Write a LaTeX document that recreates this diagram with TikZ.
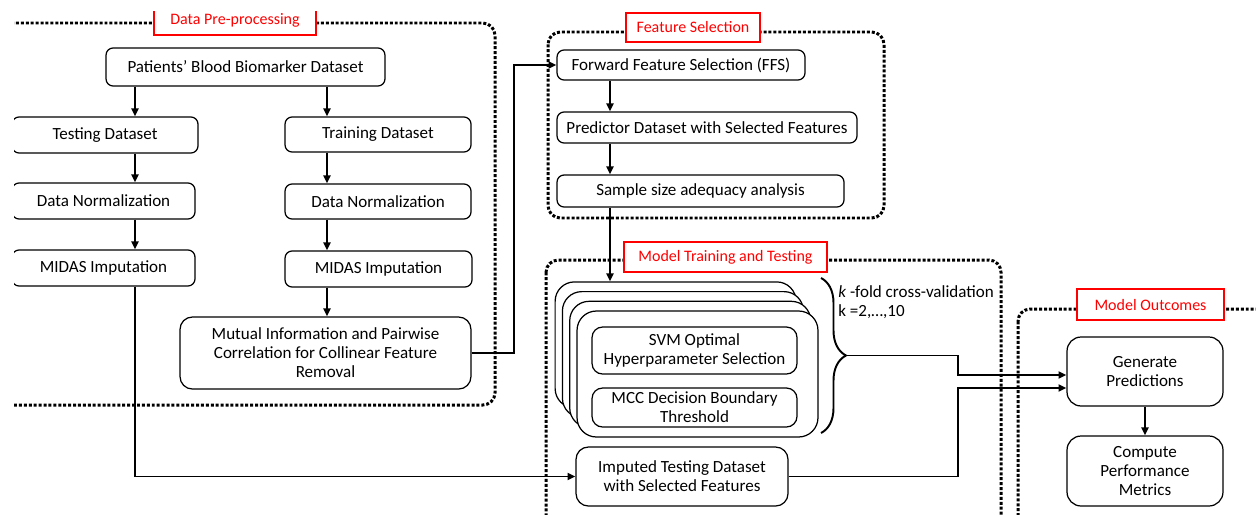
\documentclass[tikz,border=0pt]{standalone}
\usepackage{fontspec}
\setmainfont{Carlito}
\usetikzlibrary{arrows.meta,calc,decorations.pathreplacing}
\definecolor{cPhase}{HTML}{FF0000}

\begin{document}
\begin{tikzpicture}[x=0.02cm,y=-0.02cm,
    stage/.style={draw,rounded corners=4pt,line width=0.7pt,align=center,inner sep=1pt,
      font=\fontsize{9.7}{10.8}\selectfont},
    phasetag/.style={draw=cPhase,fill=white,line width=1.1pt,text=cPhase,inner sep=0pt,
      font=\fontsize{9.1}{10}\selectfont},
    phasebox/.style={line width=1.7pt,dash pattern=on 1.7pt off 1.1pt,rounded corners=7pt},
    arrowline/.style={line width=1.1pt,-{Triangle[length=4.5pt,width=4pt]}},
    foldbox/.style={draw,fill=white,rounded corners=11pt,line width=0.7pt,
      minimum width=4.82cm,minimum height=2.52cm}]
  \useasboundingbox (0,0) rectangle (1256,514);
  \clip (14,11) rectangle (1256,514);

  \draw[phasebox] (-30,23) rectangle (495,405);
  \draw[phasebox] (548,32) rectangle (884,218);
  \draw[phasebox] (546,260) rectangle (1001,560);
  \draw[phasebox] (1018,309) rectangle (1300,560);

  \node[phasetag,minimum width=3.24cm,minimum height=0.6cm] (tagPre) at (235,20) {Data Pre-processing};
  \node[phasetag,minimum width=2.68cm,minimum height=0.58cm] (tagSel) at (693,27.5) {Feature Selection};
  \node[phasetag,minimum width=4.06cm,minimum height=0.6cm] (tagTrain) at (725.5,257) {Model Training and Testing};
  \node[phasetag,minimum width=2.94cm,minimum height=0.62cm] (tagOut) at (1150.5,304.5) {Model Outcomes};

  \node[stage,minimum width=5.58cm,minimum height=0.76cm] (patients) at (245.5,67) {Patients' Blood Biomarker Dataset};
  \node[stage,minimum width=3.72cm,minimum height=0.72cm] (testL) at (105,135) {Testing Dataset};
  \node[stage,minimum width=3.66cm,minimum height=0.72cm] (normL) at (103.5,201) {Data Normalization};
  \node[stage,minimum width=3.66cm,minimum height=0.72cm] (midasL) at (103.5,268) {MIDAS Imputation};
  \node[stage,minimum width=3.72cm,minimum height=0.7cm] (trainR) at (378,134.5) {Training Dataset};
  \node[stage,minimum width=3.72cm,minimum height=0.7cm] (normR) at (378,201.5) {Data Normalization};
  \node[stage,minimum width=3.74cm,minimum height=0.72cm] (midasR) at (378.5,269) {MIDAS Imputation};
  \node[stage,minimum width=5.82cm,minimum height=1.44cm,rounded corners=7pt] (mutual) at (325.5,353)
    {Mutual Information and Pairwise\\Correlation for Collinear Feature\\Removal};

  \node[stage,minimum width=4.96cm,minimum height=0.6cm] (ffs) at (681,65) {Forward Feature Selection (FFS)};
  \node[stage,minimum width=6cm,minimum height=0.62cm] (predictor) at (707,127.5) {Predictor Dataset with Selected Features};
  \node[stage,minimum width=5.74cm,minimum height=0.64cm] (sample) at (700.5,191) {Sample size adequacy analysis};

  \foreach \i in {3,2,1,0}
    \node[foldbox] (fold\i) at ({697.5-7.3*\i},{374-9.7*\i}) {};
  \node[stage,minimum width=4.1cm,minimum height=0.94cm,rounded corners=6pt] (svm) at (694.5,350.5)
    {SVM Optimal\\Hyperparameter Selection};
  \node[stage,minimum width=4.1cm,minimum height=0.78cm,rounded corners=6pt] (mcc) at (694.5,407.5)
    {MCC Decision Boundary\\Threshold};
  \node[stage,minimum width=4.24cm,minimum height=1.18cm,rounded corners=7pt] (imputed) at (682,476.5)
    {Imputed Testing Dataset\\with Selected Features};

  \draw[line width=1.1pt,decorate,decoration={brace,amplitude=0.5cm}] (821,278) -- (821,433);
  \coordinate (btip) at (846,355.5);
  \node[anchor=west,align=left,inner sep=0pt,font=\fontsize{9.7}{10.8}\selectfont] (kfold) at (838,302.5)
    {\textit{k} -fold cross-validation\\k =2,…,10};

  \node[stage,minimum width=3.12cm,minimum height=1.38cm,rounded corners=8pt] (predict) at (1145,371.5)
    {Generate\\Predictions};
  \node[stage,minimum width=3.12cm,minimum height=1.4cm,rounded corners=8pt] (metrics) at (1145,471)
    {Compute\\Performance\\Metrics};

  \coordinate (colL) at (135,0);
  \coordinate (colR) at (327,0);
  \coordinate (colF) at (610,0);
  \coordinate (jog) at (958,0);
  \coordinate (inA) at ([yshift=-0.07cm]predict.west);
  \coordinate (inB) at ([yshift=-0.33cm]predict.west);

  \draw[arrowline] (patients.south -| colL) -- (testL.north -| colL);
  \draw[arrowline] (testL.south -| colL) -- (normL.north -| colL);
  \draw[arrowline] (normL.south -| colL) -- (midasL.north -| colL);
  \draw[arrowline] (patients.south -| colR) -- (trainR.north -| colR);
  \draw[arrowline] (trainR.south -| colR) -- (normR.north -| colR);
  \draw[arrowline] (normR.south -| colR) -- (midasR.north -| colR);
  \draw[arrowline] (midasR.south -| colR) -- (mutual.north -| colR);
  \draw[arrowline] (mutual.east) -- ++(42,0) |- (ffs.west);
  \draw[arrowline] (ffs.south -| colF) -- (predictor.north -| colF);
  \draw[arrowline] (predictor.south -| colF) -- (sample.north -| colF);
  \draw[arrowline] (sample.south -| colF) -- (fold3.north -| colF);
  \draw[arrowline] (midasL.south -| colL) |- (imputed.west);
  \draw[arrowline] (btip) -- (btip -| jog) |- (inA);
  \draw[arrowline] (imputed.east) -- (imputed.east -| jog) |- (inB);
  \draw[arrowline] (predict.south) -- (metrics.north);
\end{tikzpicture}
\end{document}
